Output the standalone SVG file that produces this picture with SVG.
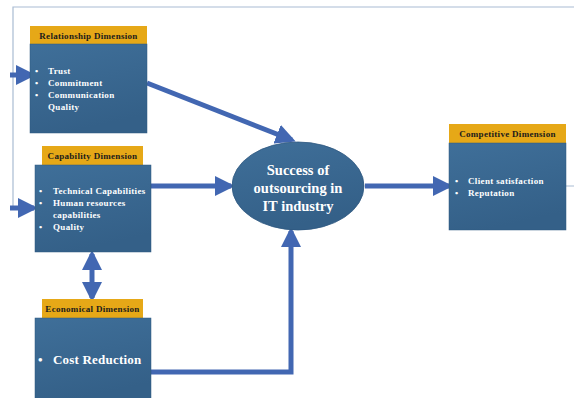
<svg xmlns="http://www.w3.org/2000/svg" width="574" height="398" viewBox="0 0 574 398">
<defs>
<linearGradient id="bg" x1="0" y1="0" x2="0.3" y2="1">
<stop offset="0" stop-color="#3f6f99"/>
<stop offset="1" stop-color="#346088"/>
</linearGradient>
<marker id="ah" markerWidth="4" markerHeight="4" refX="3.2" refY="2" orient="auto" markerUnits="strokeWidth">
<path d="M0,0 L4,2 L0,4 z" fill="#4267b2"/>
</marker>
<marker id="ahs" markerWidth="4" markerHeight="4" refX="0.8" refY="2" orient="auto" markerUnits="strokeWidth">
<path d="M4,0 L0,2 L4,4 z" fill="#4267b2"/>
</marker>
</defs>
<style>
.body{fill:url(#bg);stroke:#2f5880;stroke-width:0.5}
.head{fill:#e6a817}
.ht{font-family:"Liberation Serif",serif;font-weight:bold;font-size:9px;letter-spacing:0.3px;fill:#1b1b1b;text-anchor:middle}
.bt{font-family:"Liberation Serif",serif;font-weight:bold;font-size:9px;letter-spacing:0.35px;fill:#ffffff}
.et{font-family:"Liberation Serif",serif;font-weight:bold;font-size:14.5px;fill:#ffffff;text-anchor:middle}
.conn{fill:none;stroke:#4267b2;stroke-width:5}
.frame{fill:none;stroke:#a9bcd3;stroke-width:1.2}
</style>
<rect width="574" height="398" fill="#ffffff"/>
<g id="connectors">
<path class="frame" d="M13,210 V7 H574"/>
<line class="conn" x1="10" y1="75" x2="32" y2="75" marker-end="url(#ah)"/>
<line class="conn" x1="10" y1="208" x2="34" y2="208" marker-end="url(#ah)"/>
<line class="conn" x1="147" y1="83" x2="292" y2="140" marker-end="url(#ah)"/>
<line class="conn" x1="151" y1="186" x2="231" y2="186" marker-end="url(#ah)"/>
<line class="conn" x1="365" y1="186" x2="449" y2="186" marker-end="url(#ah)"/>
<line class="conn" x1="92" y1="254" x2="92" y2="298" marker-start="url(#ahs)" marker-end="url(#ah)"/>
<path class="conn" d="M151,372 H291 V231" marker-end="url(#ah)"/>
<line x1="566" y1="186" x2="574" y2="186" stroke="#a9bcd3" stroke-width="1"/>
</g>
<g id="relationship">
<rect class="head" x="30" y="26" width="117" height="18"/>
<text class="ht" x="88.5" y="38.5">Relationship Dimension</text>
<rect class="body" x="30" y="44" width="117" height="89"/>
<text class="bt" x="35" y="74">•</text><text class="bt" x="48" y="74">Trust</text>
<text class="bt" x="35" y="86">•</text><text class="bt" x="48" y="86">Commitment</text>
<text class="bt" x="35" y="98">•</text><text class="bt" x="48" y="98">Communication</text>
<text class="bt" x="48" y="110">Quality</text>
</g>
<g id="capability">
<rect class="head" x="42" y="146" width="101" height="19"/>
<text class="ht" x="92.5" y="159">Capability Dimension</text>
<rect class="body" x="35" y="165" width="116" height="87"/>
<text class="bt" x="39" y="194">•</text><text class="bt" x="53" y="194">Technical Capabilities</text>
<text class="bt" x="39" y="206">•</text><text class="bt" x="53" y="206">Human resources</text>
<text class="bt" x="53" y="218">capabilities</text>
<text class="bt" x="39" y="230">•</text><text class="bt" x="53" y="230">Quality</text>
</g>
<g id="economical">
<rect class="head" x="42" y="299" width="101" height="19"/>
<text class="ht" x="92.5" y="312">Economical Dimension</text>
<rect class="body" x="35" y="318" width="116" height="82"/>
<text class="bt" x="38" y="364" style="font-size:13px;letter-spacing:0">•</text>
<text class="bt" x="53" y="364" style="font-size:13px;letter-spacing:0.2px">Cost Reduction</text>
</g>
<g id="success">
<ellipse cx="298" cy="186" rx="66" ry="44" fill="url(#bg)" stroke="#2f5880" stroke-width="0.8"/>
<text class="et" x="298" y="175">Success of</text>
<text class="et" x="298" y="193">outsourcing in</text>
<text class="et" x="298" y="211">IT industry</text>
</g>
<g id="competitive">
<rect class="head" x="449" y="124" width="117" height="19"/>
<text class="ht" x="507.5" y="137">Competitive Dimension</text>
<rect class="body" x="449" y="143" width="117" height="87"/>
<text class="bt" x="455" y="184">•</text><text class="bt" x="468" y="184">Client satisfaction</text>
<text class="bt" x="455" y="196">•</text><text class="bt" x="468" y="196">Reputation</text>
</g>
</svg>
